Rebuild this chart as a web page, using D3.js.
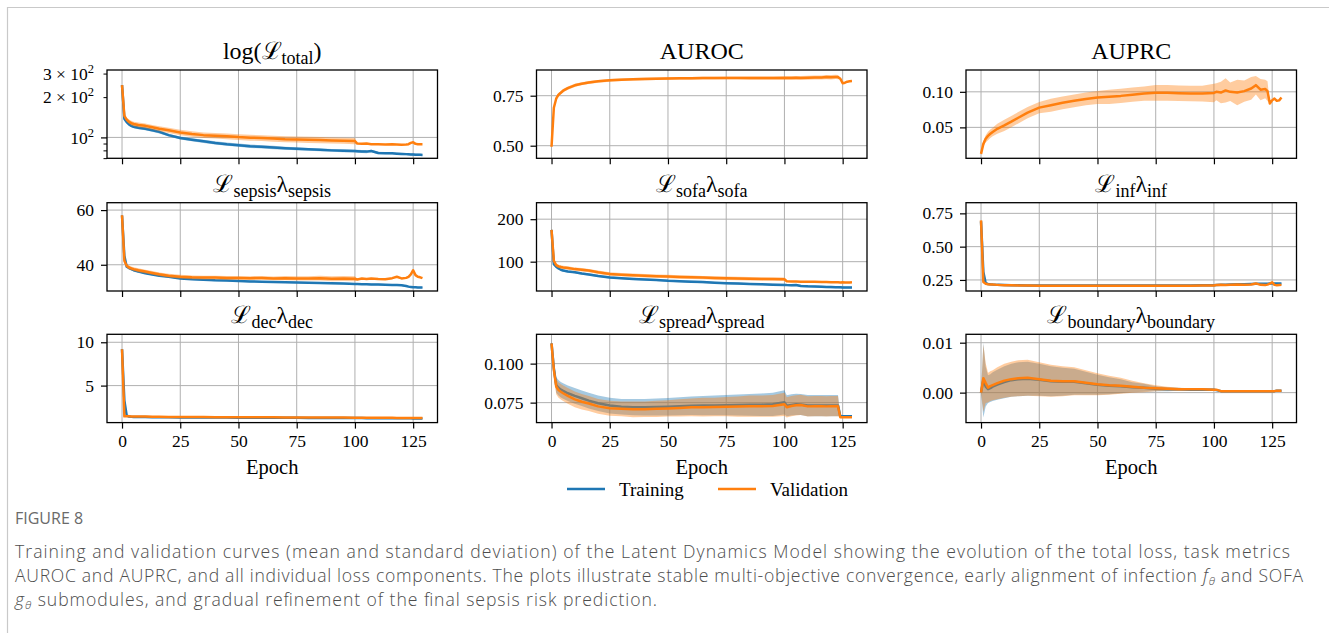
<!DOCTYPE html>
<html>
<head>
<meta charset="utf-8">
<script src="https://cdn.jsdelivr.net/npm/d3@7"></script>
<style>
  html, body { margin: 0; padding: 0; background: #fff; }
  svg { display: block; }
</style>
</head>
<body>
<svg id="fig" width="1329" height="633"></svg>
<script>
// Epochs at which the mean / std curves are sampled
const EPOCHS = [0,1,2,3,4,5,7,10,13,16, 20,25,30,35,40,45,50,55,60,65, 70,75,80,85,90,95,100,101,103,105, 107,110,113,116,118,120,122,123,124,125, 126,127,128,129];
const X_TICKS = [0, 25, 50, 75, 100, 125];

// Total loss
const totalTrain = [246,138,130,125,122,120,118,116,113,110, 104,99,96,93.5,91,89,87.5,86,85,84, 83,82.3,81.5,80.8,80,79.5,79,78.8,78.5,78.3, 79.2,76.5,76.2,76,75.6,75.3,75,74.8,74.6,74.5, 74.3,74.2,74.1,74];
const totalTrainSd = [3,4,3,3,3,3,3,3,3,3, 2.5,2.5,2.5,2.5,2.5,2.5,2.5,2.5,2.5,2.5, 2,2,2,2,2,2,2,2,2,2, 1.5,1.5,1.5,1.5,1.5,1.5,1.5,1.5,1.5,1.5, 1.5,1.5,1.5,1.5];
const totalVal = [246,145,136,131,128,126,124,122,119,116, 113,109,106,104,103,102,100.5,99.5,99,98, 97,96.5,96,95.5,95,94.5,94,90,89.5,90, 89,89,88.5,89,88.5,88,88.5,89,91,92, 89.5,89,89,89];
const totalValSd = [4,5,5,5,5,5,5,5,5,5, 5,5,5,5,5,5,5,5,5,5, 5,5,5,5,5,5,5,0,0,0, 0,0,0,0,0,0,0,0,0,0, 0,0,0,0];

// AUROC (validation)
const aurocVal = [0.495,0.69,0.735,0.755,0.765,0.775,0.788,0.802,0.81,0.816, 0.822,0.827,0.83,0.832,0.834,0.835,0.836,0.837,0.837,0.838, 0.838,0.839,0.839,0.838,0.838,0.838,0.839,0.839,0.839,0.84, 0.839,0.84,0.841,0.841,0.843,0.842,0.844,0.843,0.835,0.812, 0.815,0.82,0.822,0.823];
const aurocValSd = [0.003,0.008,0.008,0.008,0.008,0.008,0.008,0.008,0.007,0.007, 0.007,0.007,0.007,0.007,0.007,0.007,0.007,0.007,0.007,0.007, 0.007,0.007,0.007,0.008,0.008,0.008,0.009,0.009,0.009,0.009, 0.009,0.01,0.01,0.01,0.011,0.011,0.011,0.011,0,0, 0,0,0,0];

// AUPRC (validation)
const auprcVal = [0.0127,0.0268,0.0339,0.038,0.041,0.0435,0.048,0.0528,0.058,0.0635, 0.0707,0.0778,0.0811,0.0845,0.0873,0.09,0.092,0.093,0.0943,0.096, 0.0976,0.0986,0.0986,0.098,0.0976,0.0975,0.0985,0.1,0.099,0.102, 0.1,0.099,0.101,0.1047,0.1094,0.103,0.104,0.101,0.0835,0.088, 0.0906,0.0873,0.088,0.092];
const auprcValSd = [0.002,0.004,0.005,0.006,0.006,0.006,0.007,0.008,0.008,0.008, 0.008,0.008,0.009,0.009,0.009,0.009,0.009,0.01,0.01,0.01, 0.01,0.011,0.011,0.011,0.011,0.011,0.013,0.012,0.015,0.017, 0.013,0.018,0.015,0.016,0.013,0.015,0.013,0.014,0,0, 0,0,0,0];

// Sepsis loss
const sepsisTrain = [58.0,43.3,39.3,38.8,38.4,38.0,37.5,36.9,36.4,36.0, 35.6,35.0,34.7,34.5,34.3,34.2,34.1,33.9,33.8,33.7, 33.6,33.5,33.4,33.3,33.2,33.1,33.0,33.0,32.9,32.9, 32.8,32.8,32.7,32.6,32.6,32.5,32.2,32.0,31.9,31.8, 31.8,31.7,31.7,31.7];
const sepsisTrainSd = [0.5,0.5,0.4,0.4,0.4,0.4,0.3,0.3,0.3,0.3, 0.3,0.3,0.3,0.3,0.3,0.3,0.3,0.3,0.3,0.3, 0.3,0.3,0.3,0.3,0.3,0.3,0.3,0.3,0.3,0.3, 0.3,0.3,0.3,0.3,0.3,0.3,0.3,0.3,0.3,0.3, 0.3,0.3,0.3,0.3];
const sepsisVal = [58.1,41.5,39.6,39.0,38.7,38.4,38.0,37.5,37.0,36.5, 36.0,35.6,35.4,35.3,35.3,35.2,35.2,35.1,35.2,35.0, 35.1,35.0,35.0,35.1,34.9,35.0,34.9,34.6,35.0,34.8, 35.0,34.8,34.7,35.1,35.6,35.0,35.2,35.6,36.5,38.0, 36.2,35.6,35.4,35.1];
const sepsisValSd = [0.5,0.7,0.7,0.7,0.7,0.7,0.7,0.7,0.7,0.7, 0.7,0.7,0.7,0.7,0.7,0.7,0.7,0.7,0.7,0.7, 0.8,0.8,0.8,0.9,0.9,0.9,0.9,0,0,0, 0,0,0,0,0,0,0,0,0,0, 0,0,0,0];

// SOFA loss
const sofaTrain = [175,94,88,84,81,79,77,75,72,70, 66.5,63,61,59.5,58,57,55,54,53,52, 50.5,49.5,48.5,47.5,46.8,46,45.3,45,44.8,45.2, 43,42,41.5,41,40.5,40.2,40,39.8,39.6,39.5, 39.3,39.2,39.1,39];
const sofaTrainSd = [2.5,2.5,2.5,2.5,2.5,2.5,2.5,2.5,2.5,2.5, 2.5,2.5,2.5,2.5,2.5,2.5,2.5,2.5,2.5,2.5, 2.5,2.5,2.5,2.5,2.5,2.5,2.5,2.5,2.5,2.5, 2.5,2.5,2.5,2.5,2.5,2.5,2.5,2.5,2.5,2.5, 2.5,2.5,2.5,2.5];
const sofaVal = [175,102,92,89,87.5,86.5,85,82.5,81,79, 75,71,69.5,68,67,66,65,64,63.5,62.5, 61.5,61,60.5,60,59.5,59,58.5,54,53.5,53.5, 53,53,52.5,52,52,51.5,51.5,51.5,51,51.5, 51,51,51,51.5];
const sofaValSd = [3,4,4,4,4,4,4,4,4,4, 4,4,4,4,4,4,4,4,4,4, 4,4,4,4,4,4,4,0,0,0, 0,0,0,0,0,0,0,0,0,0, 0,0,0,0];

// Infection loss
const infTrain = [0.69,0.31,0.225,0.22,0.217,0.215,0.213,0.212,0.211,0.21, 0.209,0.209,0.208,0.208,0.208,0.208,0.208,0.208,0.208,0.208, 0.208,0.208,0.208,0.209,0.209,0.21,0.211,0.212,0.213,0.214, 0.215,0.217,0.218,0.22,0.222,0.221,0.222,0.222,0.223,0.223, 0.223,0.223,0.223,0.223];
const infTrainSd = [0.002,0.002,0.002,0.002,0.002,0.002,0.002,0.002,0.002,0.002, 0.002,0.002,0.002,0.002,0.002,0.002,0.002,0.002,0.002,0.002, 0.002,0.002,0.002,0.002,0.002,0.002,0.002,0.002,0.002,0.002, 0.002,0.002,0.002,0.002,0.002,0.002,0.002,0.002,0.002,0.002, 0.002,0.002,0.002,0.002];
const infVal = [0.697,0.235,0.222,0.218,0.216,0.215,0.213,0.211,0.21,0.209, 0.208,0.207,0.207,0.206,0.206,0.206,0.206,0.206,0.206,0.206, 0.206,0.207,0.207,0.207,0.207,0.208,0.209,0.212,0.213,0.212, 0.214,0.215,0.214,0.216,0.224,0.213,0.212,0.215,0.222,0.232, 0.213,0.211,0.212,0.213];
const infValSd = [0.003,0.003,0.003,0.003,0.003,0.003,0.003,0.003,0.003,0.003, 0.003,0.003,0.003,0.003,0.003,0.003,0.003,0.003,0.003,0.003, 0.003,0.003,0.003,0.003,0.003,0.003,0.003,0,0,0, 0,0,0,0,0,0,0,0,0,0, 0,0,0,0];

// Decoder loss
const decTrain = [9.2,3.3,1.55,1.42,1.4,1.39,1.38,1.37,1.36,1.35, 1.34,1.33,1.32,1.32,1.31,1.31,1.30,1.30,1.29,1.29, 1.28,1.28,1.27,1.27,1.26,1.26,1.25,1.25,1.25,1.24, 1.24,1.24,1.23,1.23,1.23,1.22,1.22,1.22,1.22,1.21, 1.21,1.21,1.21,1.21];
const decTrainSd = [0.03,0.5,0.05,0.03,0.03,0.03,0.03,0.03,0.03,0.03, 0.03,0.03,0.03,0.03,0.03,0.03,0.03,0.03,0.03,0.03, 0.03,0.03,0.03,0.03,0.03,0.03,0.03,0.03,0.03,0.03, 0.03,0.03,0.03,0.03,0.03,0.03,0.03,0.03,0.03,0.03, 0.03,0.03,0.03,0.03];
const decVal = [9.2,1.45,1.45,1.45,1.44,1.44,1.43,1.42,1.41,1.40, 1.39,1.38,1.37,1.37,1.36,1.36,1.35,1.35,1.34,1.34, 1.33,1.33,1.32,1.32,1.31,1.31,1.30,1.30,1.30,1.29, 1.29,1.29,1.28,1.28,1.27,1.27,1.27,1.26,1.26,1.26, 1.25,1.25,1.25,1.25];
const decValSd = [0.03,0.03,0.03,0.03,0.03,0.03,0.03,0.03,0.03,0.03, 0.03,0.03,0.03,0.03,0.03,0.03,0.03,0.03,0.03,0.03, 0.03,0.03,0.03,0.03,0.03,0.03,0.03,0,0,0, 0,0,0,0,0,0,0,0,0,0, 0,0,0,0];

// Spread loss
const spreadTrain = [0.113,0.097,0.0863,0.0845,0.0833,0.0825,0.081,0.0793,0.0778,0.0763, 0.0746,0.0731,0.0724,0.0721,0.0721,0.0722,0.0724,0.0727,0.073,0.0731, 0.0732,0.0734,0.0735,0.0736,0.0737,0.0739,0.0752,0.073,0.0735,0.0739, 0.0738,0.0731,0.0731,0.0731,0.0731,0.0731,0.0731,0.0731,0.0662,0.0662, 0.0662,0.0662,0.0662,0.0662];
const spreadTrainSd = [0.001,0.004,0.005,0.005,0.005,0.005,0.005,0.005,0.005,0.005, 0.005,0.005,0.005,0.0052,0.0053,0.0055,0.0056,0.0058,0.006,0.0062, 0.0063,0.0065,0.0067,0.007,0.0072,0.0074,0.0078,0.0068,0.0068,0.0068, 0.0068,0.0068,0.0068,0.0068,0.0068,0.0068,0.0068,0.0068,0,0, 0,0,0,0];
const spreadVal = [0.113,0.096,0.0853,0.0831,0.082,0.081,0.0793,0.0771,0.0756,0.0744, 0.0726,0.0714,0.071,0.0707,0.0708,0.071,0.0713,0.0716,0.072,0.0721, 0.0722,0.0724,0.0725,0.0727,0.0727,0.0729,0.0739,0.072,0.0728,0.0733, 0.0735,0.0726,0.0727,0.0727,0.0726,0.0727,0.0727,0.0727,0.0656,0.0656, 0.0656,0.0656,0.0656,0.0656];
const spreadValSd = [0.001,0.004,0.005,0.005,0.005,0.005,0.005,0.005,0.005,0.0048, 0.0048,0.0048,0.0048,0.005,0.005,0.0052,0.0052,0.0055,0.0057,0.006, 0.006,0.0062,0.0065,0.0068,0.0068,0.007,0.0075,0.0065,0.0065,0.0065, 0.0065,0.0065,0.0065,0.0065,0.0065,0.0065,0.0065,0.0065,0,0, 0,0,0,0];

// Boundary loss
const boundaryTrain = [0,0.0025,0.0012,0.0007,0.0009,0.0012,0.0016,0.0021,0.0025,0.0027, 0.0028,0.0026,0.0023,0.0022,0.0022,0.0019,0.0016,0.0014,0.0013,0.0011, 0.001,0.0008,0.0007,0.0007,0.0006,0.0006,0.0006,0.0005,0.0003,0.0003, 0.0003,0.0003,0.0003,0.0003,0.0003,0.0003,0.0003,0.0003,0.0003,0.0003, 0.0003,0.0004,0.0004,0.0004];
const boundaryTrainSd = [0,0.0075,0.004,0.0028,0.0028,0.0029,0.003,0.0032,0.0033,0.0034, 0.0034,0.0032,0.003,0.0028,0.0026,0.0023,0.002,0.0017,0.0014,0.001, 0.0008,0.0005,0.0004,0.0003,0.0002,0.0002,0.0002,0.0001,0.0001,0.0001, 0.0001,0.0001,0.0001,0.0001,0.0001,0.0001,0.0001,0.0001,0.0001,0.0001, 0.0001,0.0001,0.0001,0.0001];
const boundaryVal = [0,0.0029,0.0019,0.001,0.0013,0.0015,0.0019,0.0024,0.0027,0.0029, 0.003,0.0027,0.0024,0.0023,0.0023,0.002,0.0017,0.0015,0.0014,0.0012, 0.001,0.0009,0.0008,0.0007,0.0007,0.0007,0.0006,0.0006,0.0003,0.0003, 0.0003,0.0003,0.0003,0.0003,0.0003,0.0003,0.0003,0.0003,0.0003,0.0003, 0.0003,0.0004,0.0004,0.0004];
const boundaryValSd = [0,0.0068,0.004,0.003,0.003,0.003,0.0032,0.0034,0.0035,0.0036, 0.0036,0.0034,0.0032,0.003,0.0028,0.0025,0.0022,0.0019,0.0016,0.0012, 0.0009,0.0006,0.0004,0.0003,0.0002,0.0002,0.0002,0,0,0, 0,0,0,0,0,0,0,0,0,0, 0,0,0,0];

// Per-panel y ticks and labels ("^" marks a superscript)
const totalTicks = [100], totalLabels = ["10^2"];
const totalMinorTicks = [70, 80, 90, 200, 300], totalMinorLabels = ["", "", "", "2 × 10^2", "3 × 10^2"];
const aurocTicks = [0.5, 0.75], aurocLabels = ["0.50", "0.75"];
const auprcTicks = [0.05, 0.10], auprcLabels = ["0.05", "0.10"];
const sepsisTicks = [40, 60], sepsisLabels = ["40", "60"];
const sofaTicks = [100, 200], sofaLabels = ["100", "200"];
const infTicks = [0.25, 0.5, 0.75], infLabels = ["0.25", "0.50", "0.75"];
const decTicks = [5, 10], decLabels = ["5", "10"];
const spreadTicks = [0.075, 0.100], spreadLabels = ["0.075", "0.100"];
const boundaryTicks = [0, 0.01], boundaryLabels = ["0.00", "0.01"];

const SERIF = "'Liberation Serif', 'DejaVu Serif', serif";
const C_TRAIN = "#1f77b4", C_VAL = "#ff7f0e";

const panels = [
  { title: [["log(",0],["ℒ",0],["total",1],[")",0]], log: true, domain: [69.8, 319],
    train: totalTrain, trainSd: totalTrainSd, val: totalVal, valSd: totalValSd,
    ticks: totalTicks, labels: totalLabels, minor: totalMinorTicks, minorLabels: totalMinorLabels },
  { title: [["AUROC",0]], domain: [0.437, 0.8785], val: aurocVal, valSd: aurocValSd, ticks: aurocTicks, labels: aurocLabels },
  { title: [["AUPRC",0]], domain: [0.0065, 0.1307], val: auprcVal, valSd: auprcValSd, ticks: auprcTicks, labels: auprcLabels },
  { title: [["ℒ",0],["sepsis",1],["λ",0],["sepsis",1]], domain: [30.4, 62.7],
    train: sepsisTrain, trainSd: sepsisTrainSd, val: sepsisVal, valSd: sepsisValSd, ticks: sepsisTicks, labels: sepsisLabels },
  { title: [["ℒ",0],["sofa",1],["λ",0],["sofa",1]], domain: [31, 238.8],
    train: sofaTrain, trainSd: sofaTrainSd, val: sofaVal, valSd: sofaValSd, ticks: sofaTicks, labels: sofaLabels },
  { title: [["ℒ",0],["inf",1],["λ",0],["inf",1]], domain: [0.167, 0.83],
    train: infTrain, trainSd: infTrainSd, val: infVal, valSd: infValSd, ticks: infTicks, labels: infLabels },
  { title: [["ℒ",0],["dec",1],["λ",0],["dec",1]], domain: [0.73, 10.92],
    train: decTrain, trainSd: decTrainSd, val: decVal, valSd: decValSd, ticks: decTicks, labels: decLabels },
  { title: [["ℒ",0],["spread",1],["λ",0],["spread",1]], domain: [0.0622, 0.1188],
    train: spreadTrain, trainSd: spreadTrainSd, val: spreadVal, valSd: spreadValSd, ticks: spreadTicks, labels: spreadLabels },
  { title: [["ℒ",0],["boundary",1],["λ",0],["boundary",1]], domain: [-0.006, 0.01168],
    train: boundaryTrain, trainSd: boundaryTrainSd, val: boundaryVal, valSd: boundaryValSd, ticks: boundaryTicks, labels: boundaryLabels }
];

const svg = d3.select("#fig");

// Figure frame
svg.append("path").attr("d", "M7.5,633 V7.5 H1329")
  .attr("fill", "none").attr("stroke", "#c9c9c9").attr("stroke-width", 1.2);

// Layout of the 3x3 grid
const colLeft = [107, 536.5, 966];
const rowTop = [70, 202.7, 334.3];
const PW = 330.5, PH = 88.3;
const xBase = d3.scaleLinear().domain([-6.45, 135.45]);

// Write a label that may contain a "^" superscript
function writeTickLabel(sel, label) {
  sel.text(null);
  const parts = label.split("^");
  sel.append("tspan").text(parts[0]);
  if (parts.length > 1) {
    sel.append("tspan").attr("dy", -7).style("font-size", "12.5px").text(parts[1]);
  }
}

function styleAxis(ga, tickWidth) {
  ga.select(".domain").remove();
  ga.attr("font-family", null).attr("font-size", null);
  ga.selectAll("line").attr("stroke", "#000").attr("stroke-width", tickWidth);
  ga.selectAll("text").style("font-family", SERIF).style("font-size", "17.5px").attr("fill", "#000");
}

panels.forEach((p, i) => {
  const col = i % 3, row = Math.floor(i / 3);
  const L = colLeft[col], T = rowTop[row];
  const xs = xBase.copy().range([L, L + PW]);
  const ys = (p.log ? d3.scaleLog() : d3.scaleLinear()).domain(p.domain).range([T + PH, T]);
  const g = svg.append("g");

  const cid = "clip" + i;
  svg.append("defs").append("clipPath").attr("id", cid)
    .append("rect").attr("x", L).attr("y", T).attr("width", PW).attr("height", PH);

  // grid
  const grid = g.append("g").attr("stroke", "#b0b0b0").attr("stroke-width", 1);
  X_TICKS.forEach(v => grid.append("line")
    .attr("x1", xs(v)).attr("x2", xs(v)).attr("y1", T).attr("y2", T + PH));
  p.ticks.forEach(v => grid.append("line")
    .attr("x1", L).attr("x2", L + PW).attr("y1", ys(v)).attr("y2", ys(v)));

  // mean curves with std bands
  const plot = g.append("g").attr("clip-path", `url(#${cid})`);
  const drawSeries = (mean, sd, color) => {
    if (!mean) return;
    const area = d3.area()
      .x((d, j) => xs(EPOCHS[j]))
      .y0((d, j) => ys(mean[j] - sd[j]))
      .y1((d, j) => ys(mean[j] + sd[j]));
    plot.append("path").datum(mean).attr("d", area)
      .attr("fill", color).attr("fill-opacity", 0.4).attr("stroke", "none");
    const line = d3.line().x((d, j) => xs(EPOCHS[j])).y(d => ys(d));
    plot.append("path").datum(mean).attr("d", line)
      .attr("fill", "none").attr("stroke", color).attr("stroke-width", 2.5)
      .attr("stroke-linejoin", "round").attr("stroke-linecap", "butt");
  };
  drawSeries(p.train, p.trainSd, C_TRAIN);
  drawSeries(p.val, p.valSd, C_VAL);

  // x axis
  const xAxis = d3.axisBottom(xs).tickValues(X_TICKS).tickSize(6).tickPadding(6)
    .tickFormat(row === 2 ? d3.format("d") : () => "");
  const gx = g.append("g").attr("transform", `translate(0,${T + PH})`).call(xAxis);
  styleAxis(gx, 1.2);

  // y axis (major)
  const yAxis = d3.axisLeft(ys).tickValues(p.ticks).tickSize(6).tickPadding(7)
    .tickFormat((d, k) => p.labels[k]);
  const gy = g.append("g").attr("transform", `translate(${L},0)`).call(yAxis);
  styleAxis(gy, 1.2);
  gy.selectAll("text").each(function(d, k) { writeTickLabel(d3.select(this), p.labels[k]); });

  // y axis (minor, log panel)
  if (p.minor) {
    const yMinor = d3.axisLeft(ys).tickValues(p.minor).tickSize(3.5).tickPadding(9.5)
      .tickFormat((d, k) => p.minorLabels[k]);
    const gm = g.append("g").attr("transform", `translate(${L},0)`).call(yMinor);
    styleAxis(gm, 1);
    gm.selectAll("text").each(function(d, k) { writeTickLabel(d3.select(this), p.minorLabels[k]); });
  }

  // frame
  g.append("rect").attr("x", L).attr("y", T).attr("width", PW).attr("height", PH)
    .attr("fill", "none").attr("stroke", "#000").attr("stroke-width", 1.3);

  // title
  const tt = g.append("text").attr("x", L + PW / 2).attr("y", T - 11)
    .attr("text-anchor", "middle").style("font-family", SERIF).style("font-size", "24px").attr("fill", "#000");
  let shift = 0;
  p.title.forEach(([txt, sub]) => {
    const target = sub ? 5 : 0;
    tt.append("tspan").attr("dy", target - shift).style("font-size", sub ? "18px" : "24px").text(txt);
    shift = target;
  });

  // x label on the bottom row
  if (row === 2) {
    g.append("text").attr("x", L + PW / 2).attr("y", T + PH + 51)
      .attr("text-anchor", "middle").style("font-family", SERIF).style("font-size", "20.5px")
      .attr("fill", "#000").text("Epoch");
  }
});

// Legend
const legendItems = [
  { label: "Training", color: C_TRAIN, x: 567 },
  { label: "Validation", color: C_VAL, x: 718 }
];
const lg = svg.append("g");
legendItems.forEach(it => {
  lg.append("line").attr("x1", it.x).attr("x2", it.x + 38).attr("y1", 489).attr("y2", 489)
    .attr("stroke", it.color).attr("stroke-width", 2.5);
  lg.append("text").attr("x", it.x + 52).attr("y", 495.5).style("font-family", SERIF)
    .style("font-size", "19px").attr("fill", "#000").text(it.label);
});

// Caption
const SANS = "'Open Sans', 'Noto Sans', sans-serif";
svg.append("text").attr("x", 15).attr("y", 524).style("font-family", SANS)
  .style("font-size", "16px").attr("fill", "#6a6a6a").text("FIGURE 8");

const capStyle = sel => sel.style("font-family", SANS).style("font-size", "17.6px")
  .style("font-weight", 300).attr("fill", "#4d4d4d").attr("lengthAdjust", "spacing");

const cap1 = svg.append("text").attr("x", 15).attr("y", 558).call(capStyle).attr("textLength", 1275)
  .text("Training and validation curves (mean and standard deviation) of the Latent Dynamics Model showing the evolution of the total loss, task metrics");

const cap2 = svg.append("text").attr("x", 15).attr("y", 582).call(capStyle).attr("textLength", 1288);
cap2.append("tspan").text("AUROC and AUPRC, and all individual loss components. The plots illustrate stable multi-objective convergence, early alignment of infection ");
cap2.append("tspan").style("font-style", "italic").text("f");
cap2.append("tspan").style("font-style", "italic").style("font-size", "11.5px").attr("dy", 3).text("θ");
cap2.append("tspan").attr("dy", -3).text(" and SOFA");

const cap3 = svg.append("text").attr("x", 15).attr("y", 606).call(capStyle).attr("textLength", 642);
cap3.append("tspan").style("font-style", "italic").text("g");
cap3.append("tspan").style("font-style", "italic").style("font-size", "11.5px").attr("dy", 3).text("θ");
cap3.append("tspan").attr("dy", -3).text(" submodules, and gradual refinement of the final sepsis risk prediction.");
</script>
</body>
</html>
